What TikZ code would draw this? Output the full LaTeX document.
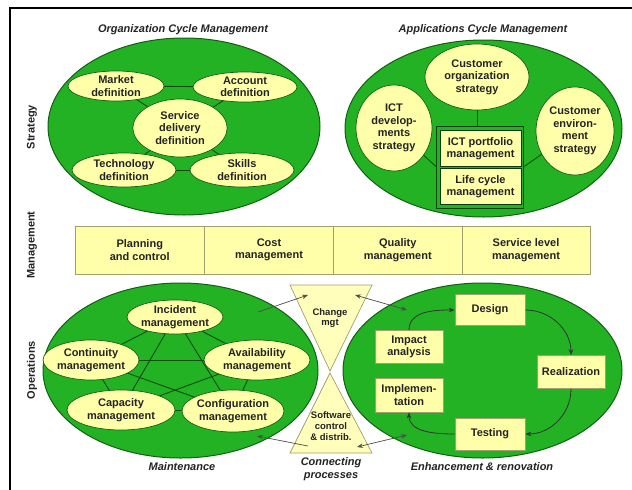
\documentclass[tikz,border=0pt]{standalone}
\usepackage{fontspec}
\setmainfont{Liberation Sans}
\usetikzlibrary{shapes.geometric,arrows.meta}
\definecolor{grn}{RGB}{34,178,36}
\definecolor{dgrn}{RGB}{20,95,20}
\definecolor{yel}{RGB}{255,255,170}
\definecolor{ybord}{RGB}{160,160,110}
\definecolor{txt}{RGB}{35,35,35}
\newcommand\mytxt{\fontsize{11}{12.5}\selectfont\bfseries}
\newcommand\smtxt{\fontsize{9.5}{10.8}\selectfont\bfseries}
\newcommand\ittxt{\fontsize{11}{13.5}\selectfont\bfseries\itshape}
\pgfdeclarelayer{bg}
\pgfdeclarelayer{mid}
\pgfsetlayers{bg,mid,main}
\tikzset{
  big/.style={ellipse, draw=dgrn, fill=grn, line width=1pt, inner sep=0pt},
  oval/.style={ellipse, draw=dgrn, fill=yel, line width=0.7pt, inner sep=0pt,
    font=\mytxt, align=center, text=txt},
  ybox/.style={rectangle, draw=ybord, fill=yel, line width=0.7pt, inner sep=0pt,
    font=\mytxt, align=center, text=txt},
  dbox/.style={rectangle, draw=dgrn!60!black, fill=yel, line width=0.9pt, inner sep=0pt,
    font=\mytxt, align=center, text=txt},
  link/.style={draw=dgrn!80!black, line width=0.9pt},
  flow/.style={draw=black!80, line width=0.8pt, -{Stealth[length=6pt,width=4.5pt]}},
  flow2/.style={draw=black!70, line width=0.7pt, {Stealth[length=6pt,width=4.5pt]}-{Stealth[length=6pt,width=4.5pt]}},
  flow1/.style={draw=black!70, line width=0.7pt, -{Stealth[length=6pt,width=4.5pt]}},
  title/.style={font=\ittxt, text=txt},
  side/.style={font=\mytxt, text=txt, rotate=90},
  tri/.style={draw=ybord, fill=yel!80!white, line width=0.7pt},
}
\begin{document}
\begin{tikzpicture}[x=1pt,y=-1pt]
\useasboundingbox (0,0) rectangle (632,490);
% frame
\draw[line width=2pt] (10,490) -- (10,8) -- (632,8);

% side labels
\node[side] (sstr) at (32,127) {Strategy};
\node[side] (smgt) at (32,245) {Management};
\node[side] (sops) at (32,370) {Operations};

% titles
\node[title] (t1) at (183,30) {Organization Cycle Management};
\node[title] (t2) at (483,30) {Applications Cycle Management};

% ===== big ellipses =====
\begin{pgfonlayer}{bg}
\node[big, minimum width=272, minimum height=177] (org) at (184,126.5) {};
\node[big, minimum width=277, minimum height=177] (app) at (483.5,128.5) {};
\node[big, minimum width=275, minimum height=175] (mnt) at (180.5,370.5) {};
\node[big, minimum width=279, minimum height=175] (enh) at (482.5,370.5) {};
\end{pgfonlayer}

% ===== Organization cycle =====
\node[oval, minimum width=96, minimum height=30] (mkt) at (116,86) {Market\\definition};
\node[oval, minimum width=104, minimum height=30] (acc) at (245,87) {Account\\definition};
\node[oval, minimum width=94, minimum height=58] (srv) at (180,128) {Service\\delivery\\definition};
\node[oval, minimum width=104, minimum height=34] (tec) at (124,170) {Technology\\definition};
\node[oval, minimum width=104, minimum height=34] (skl) at (242,170) {Skills\\definition};
\begin{pgfonlayer}{mid}
\draw[link] (mkt.center) -- (acc.center);
\draw[link] (tec.center) -- (skl.center);
\draw[link] (srv.center) -- (mkt.center);
\draw[link] (srv.center) -- (acc.center);
\draw[link] (srv.center) -- (tec.center);
\draw[link] (srv.center) -- (skl.center);
\end{pgfonlayer}

% ===== Applications cycle =====
\node[oval, minimum width=104, minimum height=66] (cos) at (477,77) {Customer\\organization\\strategy};
\node[oval, minimum width=76, minimum height=86] (ict) at (394,128) {ICT\\develop-\\ments\\strategy};
\node[oval, minimum width=78, minimum height=88] (ces) at (575,131) {Customer\\environ-\\ment\\strategy};
\node[rectangle, draw=dgrn!70!black, line width=0.9pt, minimum width=87, minimum height=82, inner sep=0pt] (pfo) at (480,167.5) {};
\node[dbox, minimum width=81, minimum height=36.5] (port) at (480.5,148.5) {ICT portfolio\\management};
\node[dbox, minimum width=81, minimum height=36.5] (life) at (480.5,186.5) {Life cycle\\management};
\coordinate (divL) at (436.5,167);
\coordinate (divR) at (523.5,167);
\begin{pgfonlayer}{mid}
\draw[link] (cos.center) -- (cos.center |- pfo.north);
\draw[link] (ict.center) -- (divL);
\draw[link] (ces.center) -- (divR);
\end{pgfonlayer}

% ===== Management row =====
\node[ybox, minimum width=129.5, minimum height=48] (plan) at (139.75,250) {Planning\\and control};
\node[ybox, minimum width=129, minimum height=48] (cost) at (269,250) {Cost\\management};
\node[ybox, minimum width=128.5, minimum height=48] (qual) at (397.75,250) {Quality\\management};
\node[ybox, minimum width=128, minimum height=48] (slm) at (526,250) {Service level\\management};

% ===== Maintenance =====
\node[oval, minimum width=94, minimum height=34] (inc) at (175,317) {Incident\\management};
\node[oval, minimum width=88, minimum height=40] (con) at (91,360) {Continuity\\management};
\node[oval, minimum width=106, minimum height=40] (ava) at (257,360) {Availability\\management};
\node[oval, minimum width=108, minimum height=40] (cap) at (121,410) {Capacity\\management};
\node[oval, minimum width=102, minimum height=42] (cfg) at (233,411) {Configuration\\management};
\begin{pgfonlayer}{mid}
\draw[link] (inc.center) -- (con.center) -- (cap.center) -- (cfg.center) -- (ava.center) -- (inc.center);
\draw[link] (inc.center) -- (cap.center);
\draw[link] (inc.center) -- (cfg.center);
\draw[link] (con.center) -- (ava.center);
\draw[link] (con.center) -- (cfg.center);
\draw[link] (ava.center) -- (cap.center);
\end{pgfonlayer}
\node[text=txt, font=\ittxt] (lmnt) at (182,467) {Maintenance};

% ===== Connecting processes =====
\coordinate (c1) at (290,285);
\coordinate (c2) at (372,285);
\coordinate (c3) at (330,371);
\coordinate (s1) at (330,373);
\coordinate (s2) at (372,453);
\coordinate (s3) at (290,453);
\draw[tri] (c1) -- (c2) -- (c3) -- cycle;
\draw[tri] (s1) -- (s2) -- (s3) -- cycle;
\node[font=\smtxt, text=txt, align=center] (chg) at (330,318) {Change\\mgt};
\node[font=\smtxt, text=txt, align=center] (swc) at (331,426) {Software\\control\\\& distrib.};
\node[font=\ittxt, text=txt, align=center] (lcp) at (331,469) {Connecting\\processes};

\coordinate (m1) at (258,312);
\coordinate (m2) at (308,295);
\coordinate (m3) at (308,446);
\coordinate (m4) at (257,436);
\coordinate (e1) at (355,295);
\coordinate (e2) at (407,310);
\coordinate (e3) at (357,447);
\coordinate (e4) at (407,435);
\draw[flow1] (m1) -- (m2);
\draw[flow1] (m3) -- (m4);
\draw[flow2] (e1) -- (e2);
\draw[flow2] (e3) -- (e4);

% ===== Enhancement =====
\node[ybox, minimum width=70, minimum height=31] (des) at (490,310) {Design};
\node[ybox, minimum width=68, minimum height=33] (imp) at (409,347) {Impact\\analysis};
\node[ybox, minimum width=68, minimum height=33] (rea) at (571,372) {Realization};
\node[ybox, minimum width=68, minimum height=34] (iml) at (409,395) {Implemen-\\tation};
\node[ybox, minimum width=70, minimum height=32] (tst) at (490,434) {Testing};
\draw[flow] (imp.north) to[out=90,in=180] (des.west);
\draw[flow] (des.east) to[out=0,in=90] (rea.north);
\draw[flow] (rea.south) to[out=-90,in=0] (tst.east);
\draw[flow] (tst.west) to[out=180,in=-90] (iml.south);
\node[font=\ittxt, text=txt] (lenh) at (482,467) {Enhancement \& renovation};
\end{tikzpicture}
\end{document}
